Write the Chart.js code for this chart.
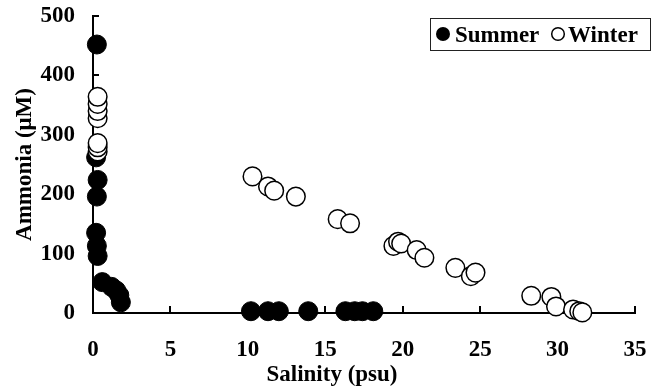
<!DOCTYPE html>
<html><head><meta charset="utf-8">
<script src="https://cdn.jsdelivr.net/npm/chart.js@4.4.1/dist/chart.umd.min.js"></script>
<style>html,body{margin:0;padding:0;background:#fff}#wrap{width:662px;height:389px;position:relative}canvas{display:block}</style>
</head><body><div id="wrap"><canvas id="c" width="662" height="389"></canvas></div>
<script>
// ---- data ----
const seriesNames = ['Summer', 'Winter'];
const summerSalinity = [0.25, 0.2, 0.3, 0.25, 0.2, 0.25, 0.3, 0.6, 1.2, 1.5, 1.7, 1.8, 10.2, 11.3, 12.0, 13.9, 16.3, 16.9, 17.4, 18.1];
const summerAmmonia  = [452, 262, 224, 196, 135, 113, 96, 52, 44, 38, 30, 18, 3, 3, 3, 3, 3, 3, 3, 3];
const winterSalinity = [0.3, 0.3, 0.3, 0.3, 0.3, 0.3, 0.3, 10.3, 11.3, 11.7, 13.1, 15.8, 16.6, 19.4, 19.7, 19.9, 20.9, 21.4, 23.4, 24.4, 24.7, 28.3, 29.6, 29.9, 31.0, 31.4, 31.6];
const winterAmmonia  = [272, 279, 286, 328, 340, 352, 364, 230, 213, 206, 196, 158, 151, 113, 120, 117, 106, 93, 76, 62, 68, 29, 27, 11, 6, 3, 1];
const xTickValues = [0, 5, 10, 15, 20, 25, 30, 35];
const yTickValues = [0, 100, 200, 300, 400, 500];
const xTitle = 'Salinity (psu)';
const yTitle = 'Ammonia (\u03BCM)';

const FONT = "'Liberation Serif', 'Times New Roman', serif";
const FS = 23;
const toPts = (xs, ys) => xs.map((x, i) => ({x: x, y: ys[i]}));

const innerTicks = {
  id: 'innerTicks',
  beforeDatasetsDraw(chart) {
    const {ctx, chartArea: a, scales: {x, y}} = chart;
    ctx.save();
    ctx.strokeStyle = '#000';
    ctx.lineWidth = 2;
    ctx.beginPath();
    xTickValues.forEach(v => { if (v === 0) return; const p = Math.round(x.getPixelForValue(v)); ctx.moveTo(p, a.bottom); ctx.lineTo(p, a.bottom - 7); });
    yTickValues.forEach(v => { if (v === 0) return; const p = Math.round(y.getPixelForValue(v)); ctx.moveTo(a.left, p); ctx.lineTo(a.left + 6, p); });
    ctx.stroke();
    ctx.restore();
  }
};

const boxLegend = {
  id: 'boxLegend',
  afterDraw(chart) {
    const {ctx, chartArea: a} = chart;
    const ds = chart.data.datasets;
    ctx.save();
    const bx = a.right - 205, by = a.top + 2, bw = 220, bh = 32;
    ctx.strokeStyle = '#222'; ctx.lineWidth = 1;
    ctx.strokeRect(bx + 0.5, by + 0.5, bw, bh);
    ctx.font = 'bold ' + FS + 'px ' + FONT;
    ctx.fillStyle = '#000';
    ctx.textBaseline = 'alphabetic';
    ctx.textAlign = 'left';
    const cy = by + 16;
    ctx.beginPath(); ctx.arc(bx + 13, cy, 7, 0, Math.PI * 2);
    ctx.fillStyle = ds[0].backgroundColor; ctx.fill();
    ctx.fillStyle = '#000';
    ctx.fillText(ds[0].label, bx + 25, by + 24);
    ctx.beginPath(); ctx.arc(bx + 128, cy, 6.3, 0, Math.PI * 2);
    ctx.fillStyle = ds[1].backgroundColor; ctx.fill();
    ctx.lineWidth = 1.5; ctx.strokeStyle = '#000'; ctx.stroke();
    ctx.fillStyle = '#000';
    ctx.fillText(ds[1].label, bx + 138, by + 24);
    ctx.restore();
  }
};

const xTitlePlugin = {
  id: 'xTitlePlugin',
  afterDraw(chart) {
    const {ctx} = chart;
    ctx.save();
    ctx.font = 'bold ' + FS + 'px ' + FONT;
    ctx.fillStyle = '#000';
    ctx.textAlign = 'center';
    ctx.textBaseline = 'middle';
    ctx.fillText(xTitle, 332, 375);
    ctx.restore();
  }
};

new Chart(document.getElementById('c'), {
  type: 'scatter',
  data: {
    datasets: [
      {label: seriesNames[0], data: toPts(summerSalinity, summerAmmonia), backgroundColor: '#000', borderColor: '#000', borderWidth: 1, pointRadius: 9.5, pointHoverRadius: 9.5, clip: false, order: 2},
      {label: seriesNames[1], data: toPts(winterSalinity, winterAmmonia), backgroundColor: '#fff', borderColor: '#000', borderWidth: 1.5, pointRadius: 9.3, pointHoverRadius: 9.3, clip: false, order: 1}
    ]
  },
  options: {
    responsive: false,
    animation: false,
    devicePixelRatio: 1,
    layout: {padding: {top: 16, right: 27, left: 0, bottom: 0}},
    plugins: {legend: {display: false}, tooltip: {enabled: false}},
    scales: {
      x: {
        type: 'linear', min: 0, max: 35,
        afterBuildTicks: s => { s.ticks = xTickValues.map(v => ({value: v})); },
        ticks: {font: {family: FONT, size: FS, weight: 'bold'}, color: '#000', padding: 23, maxRotation: 0},
        grid: {display: false, drawTicks: false},
        border: {display: true, color: '#000', width: 2},
        afterFit: s => { s.height = 76; s.paddingLeft = 0; s.paddingRight = 0; }
      },
      y: {
        type: 'linear', min: 0, max: 500,
        afterBuildTicks: s => { s.ticks = yTickValues.map(v => ({value: v})); },
        ticks: {font: {family: FONT, size: FS, weight: 'bold'}, color: '#000', padding: 18},
        grid: {display: false, drawTicks: false},
        border: {display: true, color: '#000', width: 2},
        title: {display: true, text: yTitle, font: {family: FONT, size: FS, weight: 'bold'}, color: '#000', padding: {top: 11, bottom: 0}},
        afterFit: s => { s.width = 93; s.paddingTop = 0; s.paddingBottom = 0; }
      }
    }
  },
  plugins: [innerTicks, boxLegend, xTitlePlugin]
});
</script></body></html>
